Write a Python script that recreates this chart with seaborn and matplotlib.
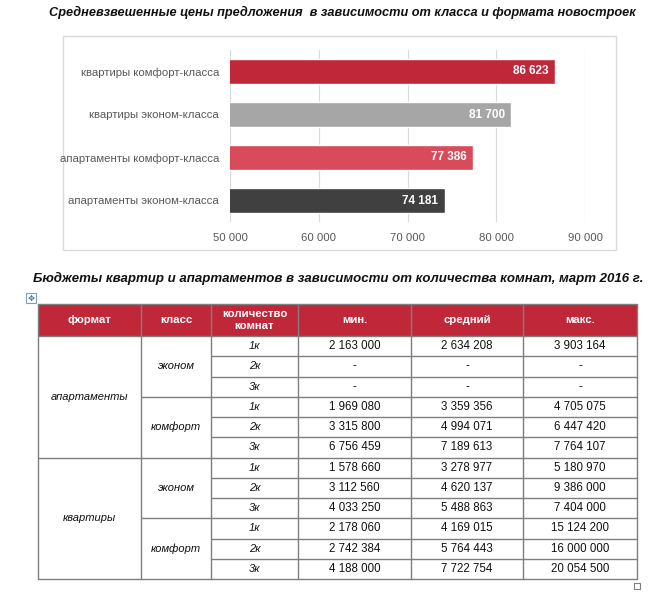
import matplotlib
matplotlib.use("Agg")
import matplotlib.pyplot as plt
import matplotlib.patches as mpatches
from matplotlib.ticker import FuncFormatter
import seaborn as sns
import pandas as pd

# ---------------- data ----------------
categories = ["квартиры комфорт-класса", "квартиры эконом-класса",
              "апартаменты комфорт-класса", "апартаменты эконом-класса"]
prices = [86623, 81700, 77386, 74181]
bar_colors = ["#C0283A", "#A6A6A6", "#D84B5B", "#404040"]
x_ticks = [50000, 60000, 70000, 80000, 90000]

chart_title = "Средневзвешенные цены предложения  в зависимости от класса и формата новостроек"
table_title = "Бюджеты квартир и апартаментов в зависимости от количества комнат, март 2016 г."

header = ["формат", "класс", "количество\nкомнат", "мин.", "средний", "макс."]
formats = ["апартаменты", "квартиры"]
classes = ["эконом", "комфорт"]
rooms = ["1к", "2к", "3к"]
min_vals = ["2 163 000", "-", "-", "1 969 080", "3 315 800", "6 756 459",
            "1 578 660", "3 112 560", "4 033 250", "2 178 060", "2 742 384", "4 188 000"]
mean_vals = ["2 634 208", "-", "-", "3 359 356", "4 994 071", "7 189 613",
             "3 278 977", "4 620 137", "5 488 863", "4 169 015", "5 764 443", "7 722 754"]
max_vals = ["3 903 164", "-", "-", "4 705 075", "6 447 420", "7 764 107",
            "5 180 970", "9 386 000", "7 404 000", "15 124 200", "16 000 000", "20 054 500"]

# ---------------- style ----------------
sns.set_theme(style="white")
plt.rcParams["font.family"] = ["Liberation Sans", "DejaVu Sans"]

W, H = 672, 595
fig = plt.figure(figsize=(W / 100, H / 100), dpi=100)
fig.patch.set_facecolor("white")

# background axes in pixel coordinates
bg = fig.add_axes([0, 0, 1, 1], zorder=0)
bg.set_xlim(0, W)
bg.set_ylim(H, 0)
bg.axis("off")

# titles
bg.text(342, 12, chart_title, ha="center", va="center", fontsize=9.2,
        fontweight="bold", style="italic", color="#111111")
bg.text(338, 278, table_title, ha="center", va="center", fontsize=9.5,
        fontweight="bold", style="italic", color="#111111")

# chart frame
bg.add_patch(mpatches.Rectangle((63, 36), 553, 214, fill=False,
                                edgecolor="#D9D9D9", lw=1))

# ---------------- bar chart ----------------
ax = fig.add_axes([230 / W, 1 - 222 / H, 355 / W, 172 / H], zorder=2)
ax.patch.set_alpha(0)
df = pd.DataFrame({"cat": categories, "price": prices})
sns.barplot(data=df, x="price", y="cat", hue="cat", palette=bar_colors,
            legend=False, width=0.6, orient="h", ax=ax, saturation=1)
ax.set_xlim(x_ticks[0], x_ticks[-1])
ax.set_xticks(x_ticks)
ax.xaxis.set_major_formatter(FuncFormatter(lambda v, p: f"{int(v):,}".replace(",", " ")))
ax.grid(axis="x", color="#D9D9D9", lw=0.8)
ax.set_axisbelow(True)
for s in ax.spines.values():
    s.set_visible(False)
ax.set_xlabel("")
ax.set_ylabel("")
ax.tick_params(axis="both", length=0, labelsize=8.2, labelcolor="#595959")
ax.tick_params(axis="x", pad=8)
ax.tick_params(axis="y", pad=8)
for i, v in enumerate(prices):
    ax.text(v - 700, i, f"{v:,}".replace(",", " "), ha="right", va="center",
            color="white", fontsize=8.5, fontweight="bold")

# ---------------- table ----------------
col_x = [38, 141, 211, 298, 411, 523, 637]
top, head_bot = 304, 336
row_h = (579 - head_bot) / 12
grid_c = "#7F7F7F"

bg.add_patch(mpatches.Rectangle((col_x[0], top), col_x[-1] - col_x[0], head_bot - top,
                                facecolor="#C0283A", edgecolor="none"))
for j, h in enumerate(header):
    cx = (col_x[j] + col_x[j + 1]) / 2
    bg.text(cx, (top + head_bot) / 2, h, ha="center", va="center", color="white",
            fontsize=8.2, fontweight="bold", linespacing=1.15)

n_rows = len(min_vals)
ybot = head_bot + n_rows * row_h
for j, x in enumerate(col_x):
    bg.plot([x, x], [top, ybot], color=grid_c, lw=1)
bg.plot([col_x[0], col_x[-1]], [top, top], color=grid_c, lw=1)

for r in range(n_rows + 1):
    y = head_bot + r * row_h
    if r % 6 == 0:
        x0 = col_x[0]
    elif r % 3 == 0:
        x0 = col_x[1]
    else:
        x0 = col_x[2]
    bg.plot([x0, col_x[-1]], [y, y], color=grid_c, lw=1)

for fi, f in enumerate(formats):
    yc = head_bot + (fi * 6 + 3) * row_h
    bg.text((col_x[0] + col_x[1]) / 2, yc, f, ha="center", va="center",
            fontsize=8, style="italic", color="#111111")
    for ci, c in enumerate(classes):
        yc2 = head_bot + (fi * 6 + ci * 3 + 1.5) * row_h
        bg.text((col_x[1] + col_x[2]) / 2, yc2, c, ha="center", va="center",
                fontsize=8, style="italic", color="#111111")
        for ri, rm in enumerate(rooms):
            k = fi * 6 + ci * 3 + ri
            yc3 = head_bot + (k + 0.5) * row_h
            bg.text((col_x[2] + col_x[3]) / 2, yc3, rm, ha="center", va="center",
                    fontsize=8, style="italic", color="#111111")
            for j, arr in enumerate([min_vals, mean_vals, max_vals]):
                bg.text((col_x[3 + j] + col_x[4 + j]) / 2, yc3, arr[k], ha="center",
                        va="center", fontsize=8.3, color="#111111")

# small table handles
bg.add_patch(mpatches.Rectangle((26, 293), 10, 10, facecolor="white", edgecolor="#7F9DB9", lw=0.8))
bg.text(31, 298, "✥", ha="center", va="center", fontsize=6, color="#3A6EA5", family=["DejaVu Sans"])
bg.add_patch(mpatches.Rectangle((634, 583), 6, 6, fill=False, edgecolor="#7F7F7F", lw=0.8))

fig.savefig("out.png", dpi=100, facecolor="white")
